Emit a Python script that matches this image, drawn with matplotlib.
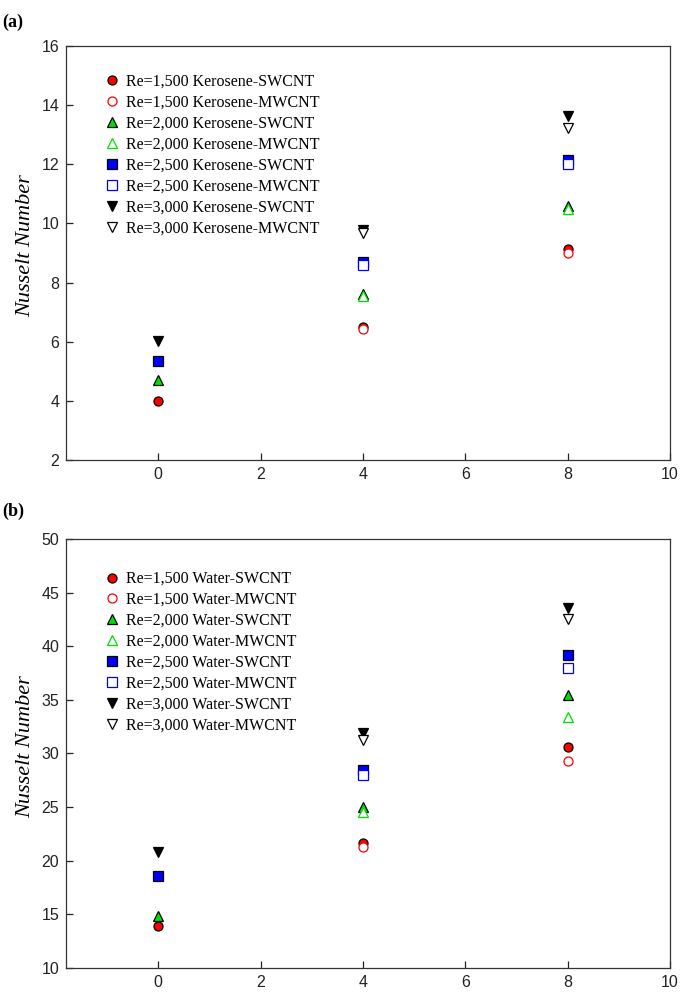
import matplotlib
matplotlib.use("Agg")
import matplotlib.pyplot as plt
import numpy as np

# ---- data ----
x_vals = [0, 4, 8]
series_labels = ["Re=1,500", "Re=1,500", "Re=2,000", "Re=2,000",
                 "Re=2,500", "Re=2,500", "Re=3,000", "Re=3,000"]
series_kind = ["SWCNT", "MWCNT"] * 4
nan = np.nan

kero_re1500_sw = [4.0, 6.5, 9.13]
kero_re1500_mw = [nan, 6.42, 9.0]
kero_re2000_sw = [4.7, 7.62, 10.6]
kero_re2000_mw = [nan, 7.55, 10.48]
kero_re2500_sw = [5.35, 8.7, 12.13]
kero_re2500_mw = [nan, 8.6, 12.0]
kero_re3000_sw = [6.02, 9.78, 13.64]
kero_re3000_mw = [nan, 9.68, 13.24]

water_re1500_sw = [13.9, 21.7, 30.6]
water_re1500_mw = [nan, 21.3, 29.3]
water_re2000_sw = [14.85, 25.0, 35.5]
water_re2000_mw = [nan, 24.5, 33.4]
water_re2500_sw = [18.6, 28.5, 39.2]
water_re2500_mw = [nan, 28.0, 38.0]
water_re3000_sw = [20.8, 31.9, 43.6]
water_re3000_mw = [nan, 31.3, 42.5]

kero_series = [kero_re1500_sw, kero_re1500_mw, kero_re2000_sw, kero_re2000_mw,
               kero_re2500_sw, kero_re2500_mw, kero_re3000_sw, kero_re3000_mw]
water_series = [water_re1500_sw, water_re1500_mw, water_re2000_sw, water_re2000_mw,
                water_re2500_sw, water_re2500_mw, water_re3000_sw, water_re3000_mw]

a_yticks = [2, 4, 6, 8, 10, 12, 14, 16]
b_yticks = [10, 15, 20, 25, 30, 35, 40, 45, 50]
x_ticks = [0, 2, 4, 6, 8, 10]

# ---- styles ----
markers = ["o", "o", "^", "^", "s", "s", "v", "v"]
colors = ["#ff0000", "#ff0000", "#00e000", "#00e000",
          "#0000ff", "#0000ff", "#000000", "#000000"]
msizes = [6.5, 6.5, 7, 7, 6.5, 6.5, 7.5, 7.5]

fig = plt.figure(figsize=(6.85, 9.93), dpi=100)

def panel(rect, series, fluid, yticks, ylim, leg_y):
    ax = fig.add_axes(rect)
    for i, ys in enumerate(series):
        filled = series_kind[i] == "SWCNT"
        lab = f"{series_labels[i]} {fluid}-{series_kind[i]}"
        if filled:
            ax.plot(x_vals, ys, linestyle="none", marker=markers[i],
                    markersize=msizes[i], markerfacecolor=colors[i],
                    markeredgecolor="black", markeredgewidth=0.9, label=lab,
                    zorder=3)
        else:
            ax.plot(x_vals, ys, linestyle="none", marker=markers[i],
                    markersize=msizes[i], markerfacecolor="white",
                    markeredgecolor=colors[i], markeredgewidth=0.9, label=lab,
                    zorder=4)
    ax.set_xlim(-1.8, 10)
    ax.set_ylim(*ylim)
    ax.set_xticks(x_ticks)
    ax.set_yticks(yticks)
    ax.tick_params(direction="in", length=5, width=0.9, top=False, right=False,
                   labelsize=11.5, pad=5, colors="#222222")
    for lab in ax.get_xticklabels() + ax.get_yticklabels():
        lab.set_fontfamily("Liberation Sans")
    for s in ax.spines.values():
        s.set_linewidth(0.9)
        s.set_color("#333333")
    ax.set_ylabel("Nusselt Number", fontfamily="Liberation Serif",
                  fontstyle="italic", fontsize=16)
    ax.yaxis.set_label_coords(-0.052, 0.517)
    ax.legend(loc="upper left", bbox_to_anchor=(0.055, leg_y),
              frameon=False, prop={"family": "Liberation Serif", "size": 11.5},
              handlelength=0.8, handletextpad=0.5, labelspacing=0.31,
              borderaxespad=0.0)
    return ax

ax_a = panel([0.0965, 0.5367, 0.8815, 0.4170], kero_series, "Kerosene",
             a_yticks, (2, 16), 0.948)
ax_b = panel([0.0965, 0.0252, 0.8815, 0.4320], water_series, "Water",
             b_yticks, (10, 50), 0.940)

fig.text(0.003, 0.978, "(a)", fontfamily="Liberation Serif", fontweight="bold",
         fontsize=13, ha="left", va="center")
fig.text(0.003, 0.485, "(b)", fontfamily="Liberation Serif", fontweight="bold",
         fontsize=13, ha="left", va="center")

fig.savefig("out.png", dpi=100)
